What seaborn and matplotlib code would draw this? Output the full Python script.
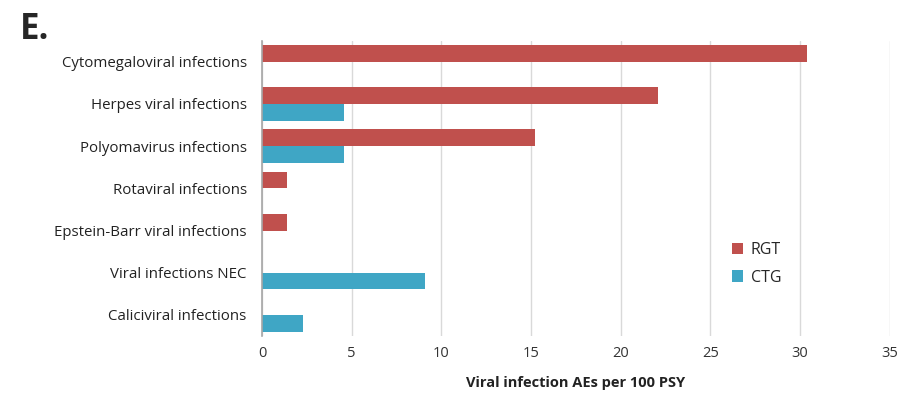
import matplotlib
matplotlib.use("Agg")
import matplotlib.pyplot as plt
import seaborn as sns
import pandas as pd
from matplotlib.patches import Patch

categories = [
    "Cytomegaloviral infections",
    "Herpes viral infections",
    "Polyomavirus infections",
    "Rotaviral infections",
    "Epstein-Barr viral infections",
    "Viral infections NEC",
    "Caliciviral infections",
]
rgt = [30.4, 22.1, 15.2, 1.4, 1.4, 0.0, 0.0]
ctg = [0.0, 4.6, 4.6, 0.0, 0.0, 9.1, 2.3]
groups = ["RGT", "CTG"]
colors = {"RGT": "#C0504D", "CTG": "#3FA6C5"}
x_ticks = [0, 5, 10, 15, 20, 25, 30, 35]

df = pd.DataFrame({
    "category": categories * 2,
    "group": ["RGT"] * len(categories) + ["CTG"] * len(categories),
    "value": rgt + ctg,
})

sns.set_theme(style="white")
plt.rcParams["font.family"] = ["Open Sans", "DejaVu Sans"]

fig = plt.figure(figsize=(9.08, 3.94), dpi=100)
ax = fig.add_axes([0.2885, 0.147, 0.6915, 0.750])

sns.barplot(data=df, y="category", x="value", hue="group", order=categories,
            hue_order=groups, palette=colors, orient="h", width=0.79,
            linewidth=0, saturation=1, ax=ax, legend=False)

ax.set_xlim(0, 35)
ax.set_xticks(x_ticks)
ax.set_xticklabels([str(t) for t in x_ticks], fontsize=10.5, color="#333333")
ax.tick_params(axis="y", labelsize=10.8, colors="#222222", length=0, pad=11)
ax.tick_params(axis="x", length=0, pad=7)
ax.grid(axis="x", color="#D9D9D9", linewidth=1)
ax.set_axisbelow(True)
for side in ["top", "right", "bottom"]:
    ax.spines[side].set_visible(False)
ax.spines["left"].set_color("#A6A6A6")
ax.spines["left"].set_linewidth(1.2)
ax.set_ylabel("")
ax.set_xlabel("Viral infection AEs per 100 PSY", fontsize=10.5, fontweight="bold",
              color="#222222", labelpad=11)

handles = [Patch(facecolor=colors[g], edgecolor="none", label=g) for g in groups]
ax.legend(handles=handles, loc="center left", bbox_to_anchor=(0.725, 0.245),
          frameon=False, fontsize=11.5, handlelength=0.7, handleheight=0.7,
          handletextpad=0.5, labelspacing=0.75)

fig.text(0.022, 0.97, "E.", fontsize=25, fontweight="bold", va="top", ha="left")

fig.savefig("out.png", dpi=100, facecolor="white")
